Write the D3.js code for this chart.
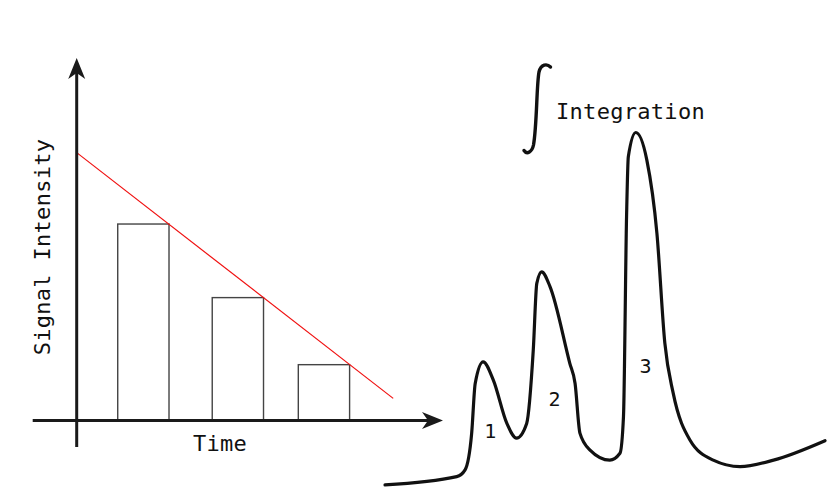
<!DOCTYPE html>
<html>
<head>
<meta charset="utf-8">
<script src="https://cdn.jsdelivr.net/npm/d3@7"></script>
<style>
  body { margin: 0; background: #fff; }
  text { font-family: "DejaVu Sans Mono", monospace; fill: #111; }
</style>
</head>
<body>
<div id="chart"></div>
<script>
// Left panel: bars sampled over time, with the fitted decay line
var barStart = [11.2, 37.0, 60.5];
var barHeight = [54.2, 33.9, 15.4];
var barWidth = 14;
var fitLine = [[0, 73.9], [86.4, 6.1]];

// Right panel: chromatogram trace (time, signal)
var traceX = [0, 16.3, 18.2, 19.7, 20.5, 22.3, 24.6, 27.7, 29.9, 32.2, 33.7, 34.5, 35.6, 37.5, 42.0, 43.2, 44.3, 46.6, 51.1, 53.4, 54.2, 54.9, 55.3, 57.0, 59.5, 61.8, 63.6, 65.5, 69.3, 74.6, 80.7, 88.3, 100];
var traceY = [1.4, 3.7, 5.6, 15.8, 29.6, 35.6, 30.6, 18.5, 14.4, 18.5, 38.9, 57.4, 60.6, 56.5, 35.2, 29.6, 15.8, 11.1, 8.3, 10.2, 20.4, 75.9, 92.6, 99.3, 91.7, 71.3, 40.8, 26.9, 13.9, 8.3, 6.5, 8.3, 13.7];
var peakLabels = ['1', '2', '3'];
var peakLabelX = [23.9, 38.5, 59.2];
var peakLabelY = [16.5, 25.2, 34.4];

var svgWidth = 830, svgHeight = 491;

var svg = d3.select('#chart').append('svg')
  .attr('width', svgWidth)
  .attr('height', svgHeight);

// scales
var xL = d3.scaleLinear().domain([0, 100]).range([76.7, 443]);
var yL = d3.scaleLinear().domain([0, 100]).range([420.5, 58]);
var xR = d3.scaleLinear().domain([0, 100]).range([385, 825]);
var yR = d3.scaleLinear().domain([0, 100]).range([490, 130]);

var left = svg.append('g').attr('class', 'left-panel');

// bars
left.selectAll('rect.bar')
  .data(barStart)
  .enter().append('rect')
  .attr('class', 'bar')
  .attr('x', function(d) { return xL(d); })
  .attr('y', function(d, i) { return yL(barHeight[i]); })
  .attr('width', xL(barWidth) - xL(0))
  .attr('height', function(d, i) { return yL(0) - yL(barHeight[i]); })
  .attr('fill', '#fff')
  .attr('stroke', '#444')
  .attr('stroke-width', 1.4);

// red fit line
left.append('path')
  .attr('d', d3.line().x(function(d) { return xL(d[0]); }).y(function(d) { return yL(d[1]); })(fitLine))
  .attr('fill', 'none')
  .attr('stroke', '#f01010')
  .attr('stroke-width', 1.2);

// axes with arrowheads
function arrowHead(g, tipX, tipY, angle) {
  g.append('path')
    .attr('d', 'M0,0 L-21,-8.5 L-15,0 L-21,8.5 Z')
    .attr('transform', 'translate(' + tipX + ',' + tipY + ') rotate(' + angle + ')')
    .attr('fill', '#1a1a1a');
}

left.append('line')
  .attr('x1', 32.7).attr('x2', xL(100) - 14)
  .attr('y1', yL(0)).attr('y2', yL(0))
  .attr('stroke', '#1a1a1a').attr('stroke-width', 3);
arrowHead(left, xL(100), yL(0), 0);

left.append('line')
  .attr('x1', xL(0)).attr('x2', xL(0))
  .attr('y1', 447).attr('y2', yL(100) + 14)
  .attr('stroke', '#1a1a1a').attr('stroke-width', 3);
arrowHead(left, xL(0), yL(100), -90);

// axis titles
left.append('text')
  .attr('x', 220).attr('y', 451)
  .attr('text-anchor', 'middle')
  .style('font-size', '22px')
  .style('letter-spacing', '0.3px')
  .text('Time');

left.append('text')
  .attr('transform', 'translate(50,247) rotate(-90)')
  .attr('text-anchor', 'middle')
  .style('font-size', '22px')
  .style('letter-spacing', '0.3px')
  .text('Signal Intensity');

// right panel
var right = svg.append('g').attr('class', 'right-panel');

var traceLine = d3.line()
  .x(function(d, i) { return xR(traceX[i]); })
  .y(function(d) { return yR(d); })
  .curve(d3.curveMonotoneX);

right.append('path')
  .attr('d', traceLine(traceY))
  .attr('fill', 'none')
  .attr('stroke', '#111')
  .attr('stroke-width', 3.2)
  .attr('stroke-linejoin', 'round')
  .attr('stroke-linecap', 'round');

right.selectAll('text.peak')
  .data(peakLabels)
  .enter().append('text')
  .attr('class', 'peak')
  .attr('x', function(d, i) { return xR(peakLabelX[i]); })
  .attr('y', function(d, i) { return yR(peakLabelY[i]); })
  .attr('text-anchor', 'middle')
  .attr('dy', '0.35em')
  .style('font-size', '20px')
  .text(function(d) { return d; });

// integral sign + title
right.append('path')
  .attr('d', 'M550.5,67 C547,63.5 541,64 539,72 C536.5,85 537,125 533.5,145 C532,152 527,155 524,150.5')
  .attr('fill', 'none')
  .attr('stroke', '#111')
  .attr('stroke-width', 3.4)
  .attr('stroke-linecap', 'round');

right.append('text')
  .attr('x', 556).attr('y', 119)
  .style('font-size', '22px')
  .style('letter-spacing', '0.3px')
  .text('Integration');
</script>
</body>
</html>
